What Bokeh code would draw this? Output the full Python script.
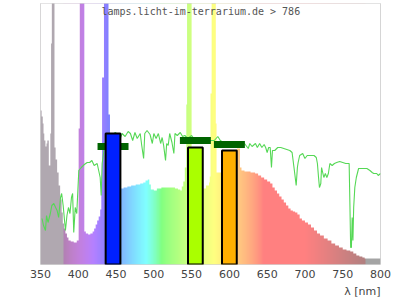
import numpy as np
from bokeh.plotting import figure
from bokeh.models import Label, Title, Range1d, FixedTicker
from bokeh.embed import file_html
from bokeh.resources import INLINE

# lamp spectrum (relative intensity, step values starting at each wavelength)
spec_wl = [350, 351.5, 353, 354, 355, 356.5, 358, 359, 361, 363, 364, 365, 368.5, 370, 372, 374, 376, 378,
           379.5, 381, 383, 385, 387, 390, 394, 398, 400.5, 402, 408, 410, 413, 416, 419, 421, 423, 425,
           427, 429, 430.5, 431.5, 434, 440, 442, 446, 452, 456, 460, 465, 470, 476, 482, 486, 489, 492,
           494, 496, 500, 504, 510, 516, 522, 528, 532, 535, 537, 539, 541, 543, 544, 550, 553, 565, 569,
           573, 574, 575, 576.5, 582, 583, 587, 592, 598, 604, 608, 610, 614, 616, 620, 628, 634, 638, 642,
           646, 650, 654, 657, 660, 663, 666, 669, 672, 675, 678, 681, 684, 687, 690, 693, 696, 700, 704,
           708, 712, 716, 720, 725, 730, 735, 740, 745, 750, 755, 760, 764, 768, 772, 776, 779, 800]
spec_val = [154, 148, 141, 131, 124, 118, 121, 124, 99, 131, 221, 400, 117, 105, 92, 79, 65, 52,
            41, 36, 31, 27, 24, 23, 22, 24, 136, 400, 33, 31, 30, 31, 33, 36, 40, 44,
            48, 55, 80, 187, 400, 150, 85, 78, 76, 76, 77, 78, 79, 80, 81, 82, 84, 85,
            80, 75, 74, 76, 77, 77, 77, 76, 75, 74, 78, 83, 97, 160, 400, 110, 80, 76, 79,
            82, 88, 171, 400, 141, 92, 92, 95, 100, 108, 114, 116, 97, 94, 93, 92, 91, 89, 87,
            85, 83, 81, 77, 74, 71, 68, 65, 62, 59, 56, 54, 53, 52, 50, 46, 44, 42, 40,
            37, 34, 31, 29, 26, 24, 21, 19, 17, 15, 14, 13, 11, 9, 8, 7, 6, 6]

# reference daylight curve
sun_wl = [352, 354, 356.6, 358, 360, 363, 365, 367.6, 370, 372, 374, 376.5, 378, 380, 383, 385, 387, 389,
          391, 392.5, 394, 396, 398, 400.7, 404, 408, 411.8, 415, 418, 421, 425, 427, 429, 430.3, 431.6,
          434, 436, 440, 445, 449, 452, 455, 458, 462, 466, 469, 472, 475, 478, 482, 484, 486.5, 488,
          491, 493, 495, 498, 500, 503, 506, 509, 511, 513, 515.5, 517, 519, 521, 524, 526.5, 528, 531,
          535, 538, 541, 545, 550, 555, 560, 565, 570, 575, 580, 584.7, 588, 592, 596, 600, 605, 610,
          615, 619, 622, 625, 627, 630, 634.5, 637, 640, 643, 646, 648, 650, 652, 654, 655.7, 657, 660,
          664, 668, 672, 676, 680, 683, 686, 688.4, 690, 691, 693, 697, 700, 703, 707, 712, 715, 716.5,
          718, 719.2, 721, 722, 723.5, 725, 727, 729, 731, 733, 736, 739, 742, 746, 750, 754, 758.5,
          759.5, 760.5, 761.5, 762.5, 763.5, 764.5, 766, 768, 771, 776, 782, 786, 789, 791, 795, 797, 800]
sun_val = [46, 39, 34, 49, 42, 51, 59, 61, 57, 54, 47, 67, 71, 59, 34, 49, 57, 51,
           67, 71, 32, 57, 51, 94, 97, 100, 102, 102, 104, 99, 101, 94, 87, 69, 101,
           114, 124, 127, 129, 132, 130, 125, 131, 128, 133, 131, 124, 132, 126, 131, 119, 106, 131,
           134, 132, 130, 121, 131, 126, 131, 121, 127, 119, 104, 121, 119, 131, 122, 111, 131, 129,
           132, 128, 129, 126, 129, 124, 126, 124, 122, 124, 124, 128, 124, 122, 121, 123, 122, 120,
           122, 122, 119, 116, 121, 118, 121, 117, 121, 117, 120, 117, 112, 117, 117, 97, 114, 114,
           117, 117, 116, 115, 114, 112, 94, 79, 97, 102, 109, 111, 106, 109, 109, 109, 107, 101,
           87, 77, 81, 97, 92, 87, 91, 87, 91, 101, 99, 101, 102, 103, 102, 101, 101,
           61, 17, 17, 47, 24, 57, 77, 87, 96, 96, 96, 94, 92, 91, 91, 89, 91]

# bands
band_center = [446, 555, 600]
band_value = [131, 117, 114]
band_color = ["#0020ff", "#aaff00", "#ffb000"]
band_sun_value = [118, 124, 120]

x_ticks = [350, 400, 450, 500, 550, 600, 650, 700, 750, 800]

Y_TOP = 261


def wl_rgba(w):
    if w < 380:
        return (176, 168, 176)
    if w >= 780:
        return (164, 164, 164)
    if w < 440:
        r, g, b = -(w - 440) / 60, 0.0, 1.0
    elif w < 490:
        r, g, b = 0.0, (w - 440) / 50, 1.0
    elif w < 510:
        r, g, b = 0.0, 1.0, -(w - 510) / 20
    elif w < 580:
        r, g, b = (w - 510) / 70, 1.0, 0.0
    elif w < 645:
        r, g, b = 1.0, -(w - 645) / 65, 0.0
    else:
        r, g, b = 1.0, 0.0, 0.0
    if w < 420:
        f = 0.3 + 0.7 * (w - 380) / 40
    elif w > 700:
        f = 0.3 + 0.7 * (780 - w) / 80
    else:
        f = 1.0
    out = []
    for c in (r, g, b):
        v = 255 * (c * f) ** 0.8 if c > 0 else 0
        out.append(int(round(255 - (255 - v) / 2)))
    return tuple(out)


p = figure(width=400, height=300, x_range=Range1d(350, 800), y_range=Range1d(0, Y_TOP),
           output_backend="svg", toolbar_location=None, y_axis_location=None,
           min_border_left=40, min_border_right=20, min_border_top=3, min_border_bottom=36)
p.grid.visible = False
p.outline_line_color = "#d4d4d4"
p.outline_line_width = 1
p.background_fill_color = "white"
p.border_fill_color = "white"

# rainbow background
cols = np.arange(350, 800)
img = np.empty((1, len(cols)), dtype=np.uint32)
view = img.view(dtype=np.uint8).reshape((1, len(cols), 4))
for i, w in enumerate(cols):
    r, g, b = wl_rgba(w + 0.5)
    view[0, i] = (r, g, b, 255)
p.image_rgba(image=[img], x=350, y=0, dw=450, dh=Y_TOP)

# mask above spectrum
p.varea_step(x=spec_wl, y1=spec_val, y2=[Y_TOP + 500] * len(spec_wl), step_mode="after",
             fill_color="white")

# daylight reference
p.line(sun_wl, sun_val, line_color="#55d855", line_width=1.1)

# daylight band markers
p.rect(x=band_center, y=band_sun_value, width=41, height=7, fill_color="#006400", line_color=None)

# lamp band bars
p.vbar(x=band_center, width=19.5, top=band_value, bottom=0, fill_color=band_color,
       line_color="black", line_width=2)

p.add_layout(Label(x=430.7, y=258.5, text="lamps.licht-im-terrarium.de > 786",
                   text_font="DejaVu Sans Mono", text_font_size="10px", text_color="#555555",
                   text_baseline="top"))

ax = p.xaxis[0]
ax.ticker = FixedTicker(ticks=x_ticks)
ax.axis_line_color = None
ax.major_tick_line_color = None
ax.minor_tick_line_color = None
ax.major_tick_in = 0
ax.major_tick_out = 0
ax.major_label_standoff = 5
ax.major_label_text_font = "DejaVu Sans"
ax.major_label_text_font_size = "11px"
ax.major_label_text_color = "#444444"

p.add_layout(Title(text="λ [nm]", align="right", text_font="DejaVu Sans", text_font_size="11px",
                   text_font_style="normal", text_color="#444444", standoff=4), "below")

open("out.html", "w").write(file_html(p, INLINE))
